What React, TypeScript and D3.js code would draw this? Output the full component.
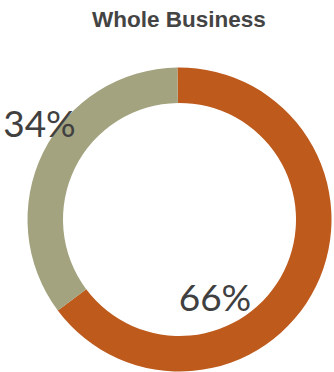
import React from "react";
import * as d3 from "d3";

const categories = ["Segment A", "Segment B"];
const values = [65, 35];
const labels = ["66%", "34%"];
const colors = ["#BD5A1C", "#A3A380"];
const title = "Whole Business";

export default function App() {
  const width = 334;
  const height = 372;
  const cx = 179.5;
  const cy = 219.5;
  const outer = 152;
  const inner = 116.5;
  const start = (-0.8 * Math.PI) / 180;

  const pie = d3
    .pie<number>()
    .sort(null)
    .value((d) => d)
    .startAngle(start)
    .endAngle(start + 2 * Math.PI);
  const arcs = pie(values);
  const arc = d3.arc<d3.PieArcDatum<number>>().innerRadius(inner).outerRadius(outer);

  const labelPos: [number, number][] = [
    [215, 311],
    [39.5, 136.5],
  ];

  return (
    <svg
      width={width}
      height={height}
      style={{ position: "absolute", left: 0, top: 0 }}
    >
      <text
        x={179}
        y={27}
        textAnchor="middle"
        fontFamily="'Liberation Sans', Arial, sans-serif"
        fontWeight="bold"
        fontSize={22.5}
        fill="#444444"
      >
        {title}
      </text>
      <g transform={`translate(${cx},${cy})`}>
        {arcs.map((a, i) => (
          <path key={categories[i]} d={arc(a) || ""} fill={colors[i]} />
        ))}
      </g>
      {labels.map((l, i) => (
        <text
          key={l}
          x={labelPos[i][0]}
          y={labelPos[i][1]}
          textAnchor="middle"
          fontFamily="Lato, sans-serif"
          fontSize={37}
          fill="#404040"
        >
          {l}
        </text>
      ))}
    </svg>
  );
}
